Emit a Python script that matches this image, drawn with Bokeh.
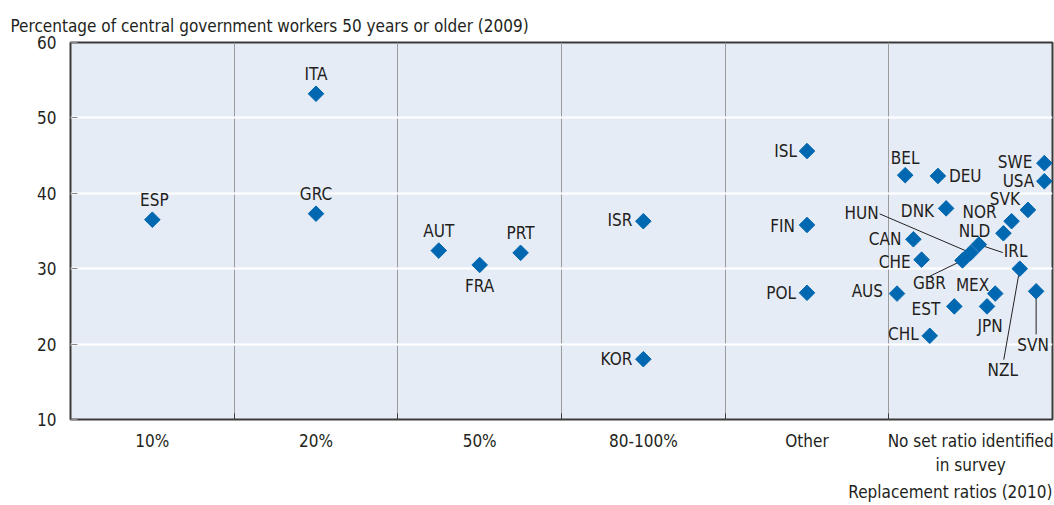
import math
from bokeh.plotting import figure
from bokeh.models import FixedTicker, Title, ColumnDataSource
from bokeh.core.properties import value
from bokeh.embed import file_html
from bokeh.resources import INLINE

# ---------------- data ----------------
categories = ["10%", "20%", "50%", "80-100%", "Other",
              "No set ratio identified\nin survey"]

countries = ["ESP", "ITA", "GRC", "AUT", "FRA", "PRT", "ISR", "KOR", "ISL", "FIN", "POL",
             "AUS", "BEL", "CAN", "CHE", "CHL", "DEU", "DNK", "EST", "GBR", "HUN",
             "IRL", "JPN", "MEX", "NLD", "NOR", "NZL", "SVK", "SVN", "SWE", "USA"]
ratio_group = [0, 1, 1, 2, 2, 2, 3, 3, 4, 4, 4,
               5, 5, 5, 5, 5, 5, 5, 5, 5, 5,
               5, 5, 5, 5, 5, 5, 5, 5, 5, 5]
spread = [0, 0, 0, -0.25, 0, 0.25, 0, 0, 0, 0, 0,
          -0.45, -0.40, -0.35, -0.30, -0.25, -0.20, -0.15, -0.10, -0.05, 0.0,
          0.05, 0.10, 0.15, 0.20, 0.25, 0.30, 0.35, 0.40, 0.45, 0.45]
older_share = [36.5, 53.2, 37.3, 32.4, 30.5, 32.1, 36.3, 18.0, 45.6, 35.8, 26.8,
               26.7, 42.4, 33.9, 31.2, 21.1, 42.3, 38.0, 25.0, 31.1, 32.1,
               33.2, 25.0, 26.7, 34.7, 36.3, 30.0, 37.8, 27.0, 44.0, 41.6]

y_ticks = [10, 20, 30, 40, 50, 60]

# ---------------- label layout (pixels: dx, dy, align) ----------------
label_layout = {
    "ESP": (2, -20, "center"), "ITA": (0, -20, "center"), "GRC": (0, -20, "center"),
    "AUT": (0, -20, "center"), "FRA": (0, 21, "center"), "PRT": (0, -20, "center"),
    "ISR": (-11, -1, "right"), "KOR": (-11, 0, "right"), "ISL": (-10, 0, "right"),
    "FIN": (-12, 1, "right"), "POL": (-11, 0, "right"),
    "AUS": (-14, -3, "right"), "BEL": (0, -17, "center"), "CAN": (-12, 0, "right"),
    "CHE": (-11, 2, "right"), "CHL": (-11, -2, "right"), "DEU": (11, 0, "left"),
    "DNK": (-12, 3, "right"), "EST": (-14, 3, "right"), "GBR": (-33, 23, "center"),
    "HUN": (-92, -40, "right"), "IRL": (25, 6, "left"), "JPN": (3, 20, "center"),
    "MEX": (-6, -9, "right"), "NLD": (-13, -2, "right"), "NOR": (-15, -9, "right"),
    "NZL": (-17, 101, "center"), "SVK": (-8, -11, "right"), "SVN": (-3, 54, "center"),
    "SWE": (-12, -1, "right"), "USA": (-10, 0, "right"),
}
leader_ends = {  # pixel offsets from the marker to the end of the leader line
    "HUN": (-91, -39), "IRL": (24, 8), "GBR": (-33, 16),
    "NZL": (-16, 91), "SVN": (0, 43),
}

FONT = "'DejaVu Sans Condensed', 'Liberation Sans Narrow', Roboto, sans-serif"
TXT = "#231f20"

W, H = 1054, 505
BL, BR, BT, BB = 70, 2, 42, 86
x_lo, x_hi = 0, len(categories)
y_lo, y_hi = 10, 60
px_x = (W - BL - BR) / (x_hi - x_lo)
px_y = (H - BT - BB) / (y_hi - y_lo)

xs = [g + 0.5 + s for g, s in zip(ratio_group, spread)]

p = figure(width=W, height=H, x_range=(x_lo, x_hi), y_range=(y_lo, y_hi),
           output_backend="svg", toolbar_location=None,
           min_border_left=BL, min_border_right=BR, min_border_top=BT,
           min_border_bottom=BB)
p.background_fill_color = "#e6ecf6"
p.border_fill_color = "white"
p.outline_line_color = "#3a3a3a"
p.outline_line_width = 2

# grids
p.ygrid.ticker = FixedTicker(ticks=y_ticks[1:-1])
p.ygrid.grid_line_color = "white"
p.ygrid.grid_line_width = 2
p.xgrid.ticker = FixedTicker(ticks=list(range(1, len(categories))))
p.xgrid.grid_line_color = "#9c9c9c"
p.xgrid.grid_line_width = 1

# y axis
p.yaxis.ticker = FixedTicker(ticks=y_ticks)
p.yaxis.axis_line_color = None
p.yaxis.major_tick_in = 7
p.yaxis.major_tick_out = 0
p.yaxis.major_tick_line_color = "#8a8a8a"
p.yaxis.minor_tick_line_color = None
p.yaxis.major_label_standoff = 14
p.yaxis.major_label_text_font = FONT
p.yaxis.major_label_text_font_size = "17px"
p.yaxis.major_label_text_color = TXT

# x axis
centers = [i + 0.5 for i in range(len(categories))]
p.xaxis.ticker = FixedTicker(ticks=centers, minor_ticks=list(range(1, len(categories))))
p.xaxis.major_label_overrides = {c: lab for c, lab in zip(centers, categories)}
p.xaxis.axis_line_color = None
p.xaxis.major_tick_in = 0
p.xaxis.major_tick_out = 0
p.xaxis.minor_tick_in = 6
p.xaxis.minor_tick_out = 0
p.xaxis.minor_tick_line_color = "#3a3a3a"
p.xaxis.major_label_standoff = 11
p.xaxis.major_label_text_font = FONT
p.xaxis.major_label_text_font_size = "17px"
p.xaxis.major_label_text_color = TXT

# titles
p.add_layout(Title(text="Replacement ratios (2010)", align="right", text_font=FONT,
                   text_font_size="17px", text_font_style="normal",
                   text_color=TXT, standoff=5), "below")
p.add_layout(Title(text="Percentage of central government workers 50 years or older (2009)",
                   align="left", offset=-60, text_font=FONT, text_font_size="17px",
                   text_font_style="normal", text_color=TXT, standoff=14), "above")

# leader lines
lx0, ly0, lx1, ly1 = [], [], [], []
for c, x, y in zip(countries, xs, older_share):
    if c in leader_ends:
        dx, dy = leader_ends[c]
        lx0.append(x); ly0.append(y)
        lx1.append(x + dx / px_x); ly1.append(y - dy / px_y)
p.segment(lx0, ly0, lx1, ly1, line_color="#222222", line_width=1)

# markers
p.scatter(xs, older_share, marker="square", size=11, angle=math.pi / 4,
          fill_color="#0067b1", line_color="#0067b1")

# labels
for align in ("left", "center", "right"):
    d = dict(x=[], y=[], t=[], dx=[], dy=[])
    for c, x, y in zip(countries, xs, older_share):
        ldx, ldy, la = label_layout[c]
        if la == align:
            d["x"].append(x); d["y"].append(y); d["t"].append(c)
            d["dx"].append(ldx); d["dy"].append(ldy)
    src = ColumnDataSource(d)
    p.text(x="x", y="y", text="t", x_offset="dx", y_offset="dy", source=src,
           text_align=align, text_baseline="middle", text_font=value(FONT),
           text_font_size="17px", text_color=TXT)

open("out.html", "w").write(file_html(p, INLINE))
